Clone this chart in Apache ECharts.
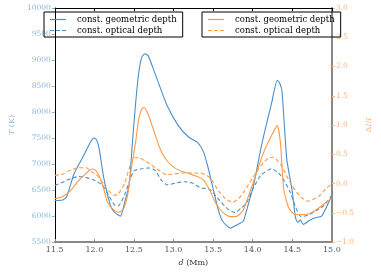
<!DOCTYPE html>
<html><head><meta charset="utf-8">
<script src="https://cdn.jsdelivr.net/npm/echarts@6/dist/echarts.min.js"></script>
<style>html,body{margin:0;padding:0;background:#fff}#c{width:381px;height:272px}</style>
</head><body><div id="c"></div>
<script>
// ---- data ----
const xTicks = [11.5, 12.0, 12.5, 13.0, 13.5, 14.0, 14.5, 15.0];
const legendLabels = ['const. geometric depth', 'const. optical depth'];

// T (K), constant geometric depth
const dGeoT = [11.5,11.6,11.65,11.74,11.8,11.87,11.95,12.0,12.03,12.06,12.12,12.2,12.25,12.33,12.38,12.44,12.48,12.52,12.56,12.6,12.64,12.68,12.74,12.81,12.92,13.06,13.19,13.3,13.38,13.44,13.49,13.56,13.62,13.72,13.8,13.88,13.93,14.01,14.12,14.24,14.31,14.34,14.37,14.43,14.5,14.54,14.57,14.6,14.64,14.72,14.79,14.87,14.94,15.0];
const tGeo   = [6300,6310,6370,6800,6980,7180,7420,7500,7460,7300,6730,6220,6080,6000,6250,6600,7400,8150,8750,9060,9120,9080,8850,8560,8120,7740,7520,7420,7230,6910,6590,6150,5900,5770,5830,5900,6150,6590,7420,8180,8610,8560,8400,7100,6470,5970,5880,5930,5840,5920,5970,6000,6200,6400];

// T (K), constant optical depth
const dOptT = [11.5,11.6,11.7,11.8,11.9,12.0,12.1,12.18,12.25,12.3,12.38,12.45,12.5,12.6,12.69,12.77,12.84,12.92,13.04,13.14,13.23,13.34,13.46,13.57,13.69,13.78,13.85,13.92,14.01,14.1,14.24,14.35,14.47,14.54,14.61,14.7,14.8,14.9,15.0];
const tOpt   = [6590,6650,6720,6760,6740,6690,6600,6400,6220,6190,6400,6700,6870,6910,6925,6880,6700,6600,6640,6660,6640,6545,6510,6320,6130,6066,6150,6250,6545,6780,6910,6790,6470,6180,5990,6020,6100,6200,6400];

// ΔI/I, constant geometric depth
const dGeoI = [11.5,11.6,11.7,11.8,11.9,11.97,12.02,12.07,12.12,12.16,12.22,12.3,12.36,12.42,12.46,12.52,12.56,12.6,12.63,12.68,12.74,12.82,12.9,13.0,13.1,13.2,13.3,13.38,13.46,13.52,13.58,13.65,13.72,13.8,13.88,13.95,14.01,14.14,14.26,14.31,14.35,14.39,14.45,14.52,14.6,14.7,14.8,14.9,15.0];
const iGeo   = [-0.26,-0.22,-0.12,0.05,0.18,0.25,0.22,0.1,-0.1,-0.3,-0.42,-0.49,-0.45,-0.2,0.2,0.7,1.1,1.28,1.3,1.18,0.95,0.63,0.42,0.28,0.21,0.17,0.12,0.06,-0.12,-0.3,-0.43,-0.52,-0.565,-0.56,-0.45,-0.2,0.03,0.54,0.88,0.99,0.7,-0.08,-0.4,-0.52,-0.53,-0.52,-0.45,-0.35,-0.25];

// ΔI/I, constant optical depth
const dOptI = [11.5,11.6,11.7,11.8,11.9,11.95,12.05,12.15,12.25,12.3,12.38,12.45,12.5,12.56,12.65,12.77,12.92,13.11,13.34,13.46,13.57,13.65,13.74,13.82,13.9,14.0,14.1,14.2,14.26,14.35,14.49,14.6,14.7,14.83,14.93,15.0];
const iOpt   = [0.14,0.16,0.23,0.27,0.27,0.22,0.12,-0.07,-0.2,-0.18,0.0,0.3,0.44,0.44,0.38,0.27,0.15,0.18,0.18,0.1,-0.13,-0.25,-0.32,-0.26,-0.12,0.1,0.3,0.44,0.45,0.33,-0.02,-0.22,-0.3,-0.22,-0.08,0.0];

// ---- chart ----
const BLUE = '#4a8ec8', ORANGE = '#ff9a45';
const BLUE_L = '#8cb6df', ORANGE_L = '#ffb27a';
const FONT = 'DejaVu Serif';
const pairs = (xs, ys) => xs.map((x, i) => [x, ys[i]]);
const fmt1 = v => (v < 0 ? '\u2212' : '') + Math.abs(v).toFixed(1);
const SOLID_ICON = 'path://M0,0h16v1h-16z';
const DASH_ICON = 'path://M0,0h4v1h-4z M6,0h4v1h-4z M12,0h4v1h-4z';

const chart = echarts.init(document.getElementById('c'), null, {renderer: 'canvas'});
const names = {geoT: legendLabels[0], optT: legendLabels[1], geoI: legendLabels[0], optI: legendLabels[1]};
const legendCommon = {
  orient: 'vertical', top: 12, padding: [3, 6, 2, 6], itemGap: 2,
  itemWidth: 16, itemHeight: 1.2, symbolKeepAspect: false,
  borderColor: '#000', borderWidth: 1, borderRadius: 0,
  textStyle: {fontFamily: FONT, fontSize: 8.5, color: '#000', padding: [0, 0, 0, 6], lineHeight: 9},
  formatter: n => names[n], selectedMode: false
};
const lineSeries = (name, yIdx, xs, ys, color, dashed) => ({
  name, type: 'line', yAxisIndex: yIdx, showSymbol: false, symbol: 'none',
  smooth: 0.2,
  data: pairs(xs, ys),
  lineStyle: {color, width: 1.1, type: dashed ? [4, 2.5] : 'solid'},
  itemStyle: {color}
});
chart.setOption({
  animation: false,
  grid: {left: 39, right: 36, top: 8, bottom: 28},
  legend: [
    Object.assign({left: 44, data: [{name: 'geoT', icon: SOLID_ICON}, {name: 'optT', icon: DASH_ICON}]}, legendCommon),
    Object.assign({left: 202, data: [{name: 'geoI', icon: SOLID_ICON}, {name: 'optI', icon: DASH_ICON}]}, legendCommon)
  ],
  xAxis: [{
    type: 'value', min: 11.5, max: 15, interval: 0.5,
    name: '{i|d} (Mm)', nameLocation: 'middle', nameGap: 14,
    nameTextStyle: {fontFamily: FONT, fontSize: 8, color: '#333', rich: {i: {fontStyle: 'italic', fontFamily: FONT, fontSize: 8}}},
    axisLine: {onZero: false, lineStyle: {color: '#888', width: 2}},
    axisTick: {inside: true, length: 3, lineStyle: {color: '#888'}},
    axisLabel: {fontFamily: FONT, fontSize: 8, color: '#555', margin: 4, formatter: fmt1},
    splitLine: {show: false}
  }, {
    type: 'value', min: 11.5, max: 15, interval: 0.5, position: 'top',
    axisLine: {onZero: false, lineStyle: {color: '#000', width: 1}},
    axisTick: {inside: true, length: 3, lineStyle: {color: '#000'}},
    axisLabel: {show: false}, splitLine: {show: false}
  }],
  yAxis: [{
    type: 'value', min: 5500, max: 10000, interval: 500, position: 'left',
    name: '{i|T} (K)', nameLocation: 'middle', nameGap: 29, nameRotate: 90,
    nameTextStyle: {fontFamily: FONT, fontSize: 8, color: BLUE_L, rich: {i: {fontStyle: 'italic', fontFamily: FONT, fontSize: 8, color: BLUE_L}}},
    axisLine: {show: true, onZero: false, lineStyle: {color: '#000', width: 1}},
    axisTick: {show: true, length: 3, lineStyle: {color: BLUE_L}},
    axisLabel: {fontFamily: FONT, fontSize: 7.5, color: BLUE_L, margin: 4, formatter: v => String(v)},
    splitLine: {show: false}
  }, {
    type: 'value', min: -1, max: 3, interval: 0.5, position: 'right',
    name: '\u0394{i|I}/{i|I}', nameLocation: 'middle', nameGap: 22, nameRotate: 90,
    nameTextStyle: {fontFamily: FONT, fontSize: 8, color: ORANGE_L, rich: {i: {fontStyle: 'italic', fontFamily: FONT, fontSize: 8, color: ORANGE_L}}},
    axisLine: {show: true, onZero: false, lineStyle: {color: '#888', width: 2}},
    axisTick: {show: true, length: 3, lineStyle: {color: ORANGE_L}},
    axisLabel: {fontFamily: FONT, fontSize: 7.5, color: ORANGE_L, margin: 4, formatter: fmt1},
    splitLine: {show: false}
  }],
  series: [
    lineSeries('geoT', 0, dGeoT, tGeo, BLUE, false),
    lineSeries('optT', 0, dOptT, tOpt, BLUE, true),
    lineSeries('geoI', 1, dGeoI, iGeo, ORANGE, false),
    lineSeries('optI', 1, dOptI, iOpt, ORANGE, true)
  ]
});
</script></body></html>
